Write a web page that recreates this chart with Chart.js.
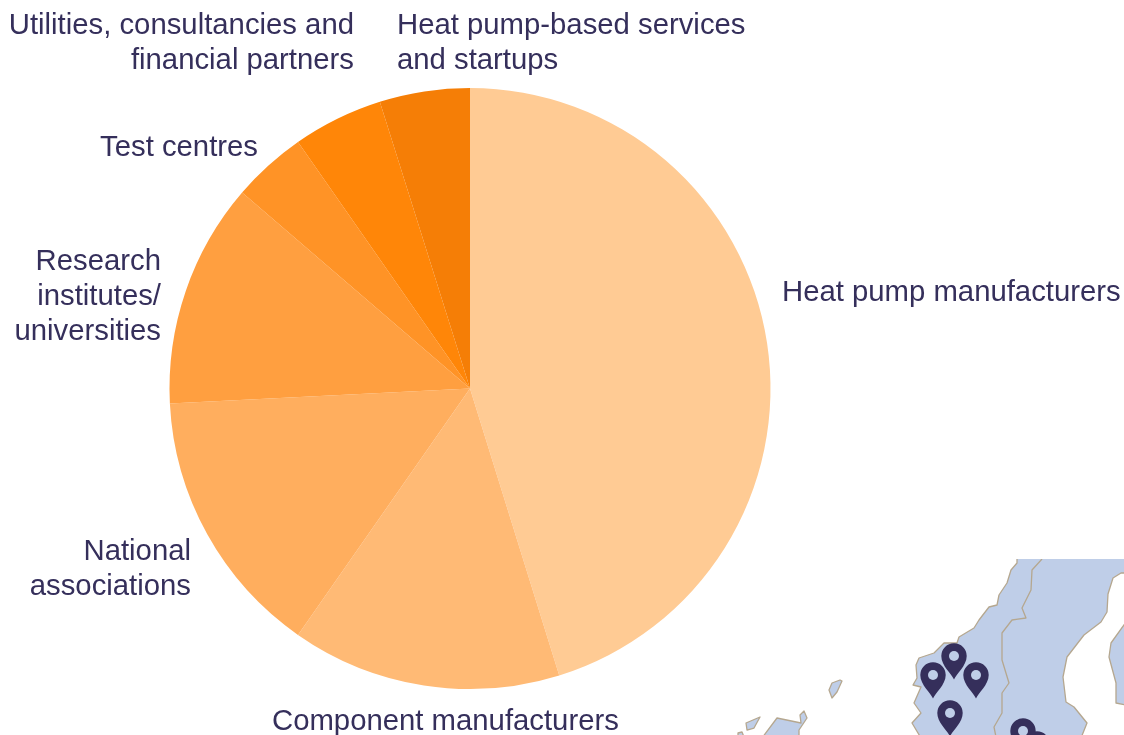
<!DOCTYPE html>
<html>
<head>
<meta charset="utf-8">
<title>Heat pump partners</title>
<script src="https://cdn.jsdelivr.net/npm/chart.js@4"></script>
<style>
  html, body { margin: 0; padding: 0; background: #fff; overflow: hidden; }
  #wrap { position: relative; width: 1124px; height: 735px; }
  #map { position: absolute; left: 0; top: 0; }
  #chart { position: absolute; left: 0; top: 0; }
  .land { fill: #bfcee8; stroke: #b5a78f; stroke-width: 1.3; stroke-linejoin: round; }
  .border { fill: none; stroke: #b5a78f; stroke-width: 1.3; stroke-linejoin: round; }
  .pin { fill: #352f5b; }
  .pinhole { fill: #bfcee8; }
</style>
</head>
<body>
<div id="wrap">
  <svg id="map" width="1124" height="735" viewBox="0 0 1124 735">
    <defs>
      <clipPath id="mapclip"><rect x="724" y="559" width="400" height="176"/></clipPath>
      <g id="marker">
        <path class="pin" d="M0 22.6 C-2 17 -12.7 9 -12.7 -1 A12.7 12.7 0 1 1 12.7 -1 C12.7 9 2 17 0 22.6 Z"/>
        <circle class="pinhole" cx="0" cy="-1" r="5"/>
      </g>
    </defs>
    <g clip-path="url(#mapclip)">
      <path class="land" d="M1017 557 L1017 563 L1011 570 L1007 583 L999 595 L997 605 L989 607 L979 620 L974 628 L959 637 L957 643 L944 643 L934 653 L919 658 L916 665 L917 678 L913 685 L921 687 L914 703 L921 713 L912 723 L921 738 L1081 738 L1087 723 L1074 707 L1066 702 L1063 677 L1067 657 L1084 635 L1101 622 L1107 612 L1108 594 L1113 578 L1121 573 L1126 573 L1126 557 Z"/>
      <path class="land" d="M1126 622 L1111 643 L1109 657 L1116 683 L1116 703 L1126 705 Z"/>
      <path class="border" d="M1042 559 L1032 570 L1031 590 L1022 608 L1026 618 L1012 620 L1002 633 L1002 660 L1009 683 L1002 693 L1002 713 L994 727 L996 737"/>
      <path class="land" d="M840 680 L832 683 L829 690 L832 698 L837 692 L842 681 Z"/>
      <path class="land" d="M746 723 L760 717 L754 728 L747 730 Z"/>
      <path class="land" d="M762 738 L777 718 L801 723 L800 715 L804 711 L807 718 L799 730 L799 738 Z"/>
      <path class="land" d="M738 733 L742 732 L744 737 L738 737 Z"/>
      <use href="#marker" x="954" y="657"/>
      <use href="#marker" x="933" y="676"/>
      <use href="#marker" x="976" y="676"/>
      <use href="#marker" x="950" y="714"/>
      <use href="#marker" x="1037" y="745"/>
      <use href="#marker" x="1023" y="732"/>
    </g>
  </svg>
  <canvas id="chart" width="1124" height="735"></canvas>
</div>
<script>
const categories = ['Heat pump manufacturers', 'Component manufacturers', 'National associations',
  'Research institutes/ universities', 'Test centres', 'Utilities, consultancies and financial partners',
  'Heat pump-based services and startups'];
const shares = [45.2, 14.5, 14.5, 12.1, 4.0, 4.85, 4.85];
const sliceColours = ['#ffcb94', '#ffba75', '#ffae5e', '#ff9f40', '#ff9326', '#ff8608', '#f57e06'];

// how each label is broken and where it sits on the page
const labelLines = [
  ['Heat pump manufacturers'],
  ['Component manufacturers'],
  ['National', 'associations'],
  ['Research', 'institutes/', 'universities'],
  ['Test centres'],
  ['Utilities, consultancies and', 'financial partners'],
  ['Heat pump-based services', 'and startups']
];
const labelAnchors = [
  {x: 782, y: 301, align: 'left'},
  {x: 272, y: 730, align: 'left'},
  {x: 191, y: 560, align: 'right'},
  {x: 161, y: 270, align: 'right'},
  {x: 258, y: 156, align: 'right'},
  {x: 354, y: 34, align: 'right'},
  {x: 397, y: 34, align: 'left'}
];

const sliceLabels = {
  id: 'sliceLabels',
  afterDraw(chart) {
    const ctx = chart.ctx;
    ctx.save();
    ctx.font = '29.3px "Liberation Sans", Arial, sans-serif';
    ctx.fillStyle = '#352f5b';
    ctx.textBaseline = 'alphabetic';
    labelLines.forEach((lines, i) => {
      const a = labelAnchors[i];
      ctx.textAlign = a.align;
      lines.forEach((line, j) => ctx.fillText(line, a.x, a.y + j * 35));
    });
    ctx.restore();
  }
};

new Chart(document.getElementById('chart').getContext('2d'), {
  type: 'pie',
  data: {
    labels: categories,
    datasets: [{
      data: shares,
      backgroundColor: sliceColours,
      borderWidth: 0
    }]
  },
  options: {
    responsive: false,
    animation: false,
    layout: {padding: {left: 169, right: 353, top: 88, bottom: 46}},
    plugins: {legend: {display: false}, tooltip: {enabled: false}}
  },
  plugins: [sliceLabels]
});
</script>
</body>
</html>
